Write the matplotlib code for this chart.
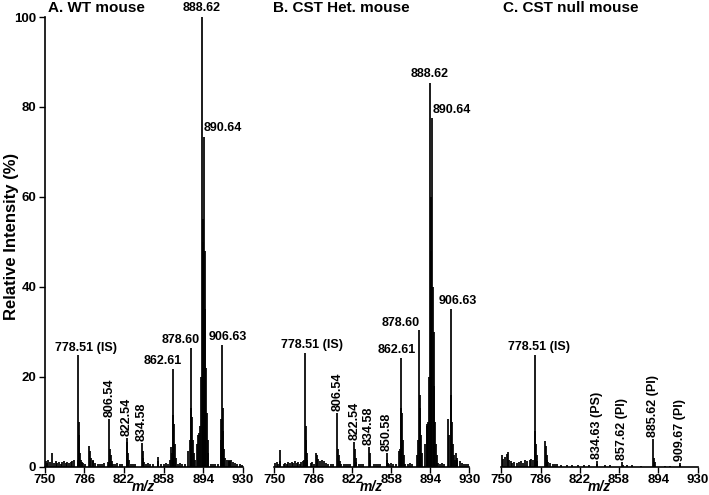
import matplotlib
matplotlib.use('Agg')
import matplotlib.pyplot as plt

plt.rcParams['font.family'] = ['Liberation Sans', 'DejaVu Sans']
plt.rcParams['font.weight'] = 'bold'

# ---------------- data ----------------
xticks = [750, 786, 822, 858, 894, 930]
yticks = [0, 20, 40, 60, 80, 100]
titles = ["A. WT mouse", "B. CST Het. mouse", "C. CST null mouse"]

# shared baseline-noise positions for panels A and B
noise_mz = [751.0, 752.2, 753.5, 755.0, 758.5, 760.0, 761.5, 763.0, 764.5, 766.0,
            767.5, 769.0, 770.5, 772.0, 773.5, 775.0, 776.5,
            783.5, 785.0, 786.5,
            794.0, 796.0, 798.0, 800.0,
            802.0, 804.0,
            812.0, 814.0, 816.0, 818.0, 820.0,
            828.0, 830.0, 832.0,
            842.0, 844.0, 846.0, 848.0,
            856.0, 858.0, 860.0, 862.0,
            871.0, 873.0, 875.0, 877.0,
            901.0, 903.0, 905.0, 907.0,
            917.0, 919.0, 921.0, 923.0, 925.0, 927.0, 929.0]
noise_A = [1.2, 0.8, 1.5, 1.0, 0.8, 1.2, 0.9, 1.1, 0.7, 1.0,
           1.2, 0.8, 1.0, 0.9, 1.1, 1.3, 1.5,
           1.0, 0.8, 0.6,
           1.5, 0.8, 0.6, 0.5,
           0.6, 0.8,
           0.7, 0.5, 0.8, 0.6, 0.5,
           0.6, 0.5, 0.7,
           0.6, 0.8, 0.5, 0.6,
           0.7, 0.6, 0.8, 0.5,
           0.6, 0.8, 0.7, 0.5,
           0.6, 0.5, 0.7, 0.6,
           1.2, 1.5, 1.0, 0.8, 0.6, 0.5, 0.4]
noise_B = [0.8, 1.0, 0.6, 1.2, 0.7, 0.9, 0.6, 1.0, 0.8, 1.1,
           0.9, 1.2, 0.8, 1.0, 0.7, 1.0, 1.2,
           0.8, 1.0, 0.7,
           1.5, 1.2, 0.8, 0.6,
           0.7, 0.6,
           0.6, 0.7, 0.5, 0.6, 0.5,
           0.5, 0.7, 0.6,
           0.6, 0.5, 0.7, 0.5,
           0.6, 0.8, 0.5, 0.7,
           0.7, 0.6, 0.8, 0.6,
           0.8, 0.7, 0.9, 0.6,
           1.4, 2.0, 1.2, 0.9, 0.7, 0.6, 0.5]

peaks_A_mz = [756.5, 780.0, 780.6, 781.1, 781.6, 782.2, 782.8,
              790.6, 791.3, 792.2, 793.5,
              807.5, 808.8, 809.4, 810.0, 810.8,
              824.6, 825.2, 825.8, 826.5,
              838.3, 838.9, 839.5, 840.2,
              852.5, 853.2,
              863.5, 864.5, 865.3, 866.1, 866.7, 867.3, 868.0, 868.8,
              880.5, 881.5, 882.5, 883.1, 883.7, 884.4, 885.2, 886.0,
              888.5, 889.3, 890.2, 891.0, 891.7, 893.0, 893.5, 894.0, 894.5,
              895.1, 895.7, 896.3, 897.0, 897.8, 898.6,
              909.8, 910.4, 911.0, 911.6, 912.2, 912.9, 913.6, 915.5, 917.5, 918.5]
peaks_A_int = [3.1, 1.5, 24.8, 10.0, 7.0, 3.0, 1.5,
               4.6, 3.5, 2.0, 1.2,
               1.0, 10.7, 4.0, 2.5, 1.2,
               6.3, 5.5, 3.0, 1.5,
               5.3, 3.5, 2.0, 1.0,
               2.2, 1.2,
               1.5, 4.4, 3.0, 21.7, 11.5, 9.5, 5.0, 2.0,
               3.5, 6.0, 26.3, 13.0, 11.0, 6.0, 3.0, 1.5,
               5.0, 7.0, 7.5, 9.0, 20.0, 100.0, 55.0, 50.0, 73.3,
               48.0, 35.0, 22.0, 12.0, 6.0, 3.0,
               10.7, 6.0, 27.0, 13.0, 8.0, 4.0, 2.0, 1.5, 1.5, 1.2]

peaks_B_mz = [755.3, 777.5, 778.3, 778.8, 779.3, 779.9, 780.6,
              788.6, 789.3, 790.2, 792.0,
              808.2, 808.8, 809.4, 810.2,
              823.9, 824.5, 825.1, 825.8,
              837.4, 838.0, 838.6,
              853.8, 854.4, 855.0,
              865.0, 866.0, 866.7, 867.3, 867.9, 868.6, 869.4,
              881.5, 882.5, 883.6, 884.2, 884.8, 885.5, 886.3,
              889.5, 890.5, 891.3, 892.2, 893.0, 893.8, 894.3, 894.9, 895.9,
              896.5, 897.1, 897.8, 898.5, 899.3, 900.0,
              910.7, 911.5, 912.9, 913.5, 914.1, 914.8, 915.5, 917.5, 919.0]
peaks_B_int = [3.7, 1.5, 25.2, 9.0, 6.0, 3.0, 1.5,
               3.1, 2.5, 1.8, 1.2,
               11.9, 4.0, 2.5, 1.2,
               5.6, 4.0, 2.0, 1.0,
               4.4, 3.0, 1.5,
               3.0, 1.5, 0.8,
               3.5, 4.0, 24.1, 13.0, 12.0, 6.0, 2.5,
               2.5, 6.0, 30.5, 16.0, 13.0, 7.0, 3.0,
               5.0, 9.0, 9.5, 10.0, 20.0, 85.3, 48.0, 60.0, 77.6,
               40.0, 30.0, 18.0, 10.0, 5.0, 2.5,
               10.7, 7.0, 35.0, 16.0, 10.0, 5.0, 2.5, 3.0, 1.5]

peaks_C_mz = [751.0, 752.0, 753.5, 755.0, 756.0, 757.0, 758.5, 760.0, 762.0, 764.0,
              766.0, 768.0, 770.0, 772.0, 774.0, 776.0, 777.5, 779.0,
              780.6, 781.1, 781.7, 782.3, 783.0,
              790.2, 790.8, 791.5, 792.2, 793.0, 795.0, 797.0, 799.0, 801.0,
              805.0, 810.0, 815.0, 820.0, 826.0, 830.0,
              837.4, 838.0, 845.0, 850.0,
              860.6, 861.2, 865.0, 870.0, 878.0,
              889.6, 890.2, 890.8, 900.0, 905.0,
              913.8, 914.4]
peaks_C_int = [2.5, 1.8, 2.2, 2.8, 3.2, 1.5, 1.2, 0.8, 1.0, 0.8,
               1.0, 1.2, 0.9, 1.4, 1.2, 1.5, 1.8, 1.5,
               24.8, 8.0, 5.0, 2.5, 1.2,
               5.8, 4.5, 2.5, 1.5, 1.0, 0.8, 0.7, 0.6, 0.5,
               0.4, 0.4, 0.3, 0.3, 0.3, 0.3,
               1.3, 0.6, 0.3, 0.3,
               1.0, 0.4, 0.3, 0.3, 0.2,
               6.2, 2.0, 1.0, 0.2, 0.2,
               0.8, 0.3]

# peak annotations: text, m/z position, intensity (peak top)
labels_A = ["778.51 (IS)", "806.54", "822.54", "834.58", "862.61", "878.60",
            "888.62", "890.64", "906.63"]
labels_A_mz = [780.6, 808.8, 824.6, 838.3, 866.1, 882.5, 893.0, 894.5, 911.0]
labels_A_int = [24.8, 10.7, 6.3, 5.3, 21.7, 26.3, 100.0, 73.3, 27.0]

labels_B = ["778.51 (IS)", "806.54", "822.54", "834.58", "850.58", "862.61",
            "878.60", "888.62", "890.64", "906.63"]
labels_B_mz = [778.3, 808.2, 823.9, 837.4, 853.8, 866.7, 883.6, 893.8, 895.9, 912.9]
labels_B_int = [25.2, 11.9, 5.6, 4.4, 3.0, 24.1, 30.5, 85.3, 77.6, 35.0]

labels_C = ["778.51 (IS)", "834.63 (PS)", "857.62 (PI)", "885.62 (PI)", "909.67 (PI)"]
labels_C_mz = [780.6, 837.4, 860.6, 889.6, 913.8]
labels_C_int = [24.8, 1.3, 1.0, 6.2, 0.8]

# label styling (rotation, alignment, pixel offsets)
style_A = [(0, 'center', 8, 1), (90, 'center', 0, 2), (90, 'center', 0, 2), (90, 'center', 0, 2),
           (0, 'center', -10, 2), (0, 'center', -10, 2), (0, 'center', -1, 3),
           (0, 'left', 0, 3), (0, 'center', 6, 2)]
style_B = [(0, 'center', 7, 2), (90, 'center', 0, 2), (90, 'center', 0, 2), (90, 'center', 0, 2),
           (90, 'center', 0, 2), (0, 'center', -4, 2), (0, 'right', 1, 1), (0, 'center', 0, 3),
           (0, 'left', 0, 2), (0, 'center', 7, 2)]
style_C = [(0, 'center', 4, 2), (90, 'center', 0, 2), (90, 'center', 0, 2), (90, 'center', 0, 2),
           (90, 'center', 0, 2)]

# ---------------- figure ----------------
W, H = 709, 495
fig = plt.figure(figsize=(W / 100, H / 100), dpi=100)

bottom = 1 - 466.7 / H
height = (466.7 - 17) / H
ax_rects = [[44.6 / W, bottom, (243.0 - 44.6) / W, height],
            [274.3 / W, bottom, (469.3 - 274.3) / W, height],
            [501.3 / W, bottom, (697.5 - 501.3) / W, height]]

panels = [
    (peaks_A_mz + noise_mz, peaks_A_int + noise_A, labels_A, labels_A_mz, labels_A_int, style_A),
    (peaks_B_mz + noise_mz, peaks_B_int + noise_B, labels_B, labels_B_mz, labels_B_int, style_B),
    (peaks_C_mz, peaks_C_int, labels_C, labels_C_mz, labels_C_int, style_C),
]
title_x = [48, 273, 503]

for i, (rect, (mz, inten, labs, lmz, lint, sty)) in enumerate(zip(ax_rects, panels)):
    ax = fig.add_axes(rect)
    ax.vlines(mz, 0, inten, color='black', lw=1.25)
    ax.set_xlim(750, 930)
    ax.set_ylim(0, 100)
    ax.set_xticks(xticks)
    ax.set_xticklabels([str(t) for t in xticks], fontsize=9.5, fontweight='bold')
    ax.tick_params(axis='x', direction='out', length=4, width=1, pad=1.5)
    for s in ['top', 'right']:
        ax.spines[s].set_visible(False)
    ax.spines['bottom'].set_linewidth(1.2)
    if i == 0:
        ax.set_yticks(yticks)
        ax.set_yticklabels([str(t) for t in yticks], fontsize=9.5, fontweight='bold')
        ax.tick_params(axis='y', direction='out', length=4, width=1, pad=2)
        ax.spines['left'].set_linewidth(1.2)
    else:
        ax.spines['left'].set_visible(False)
        ax.set_yticks([])
    ax.patch.set_visible(False)
    for t, x, y, (rot, ha, dx, dy) in zip(labs, lmz, lint, sty):
        ax.annotate(t, (x, y), xytext=(dx, dy), textcoords='offset pixels',
                    rotation=rot, ha=ha, va='bottom', fontsize=9, fontweight='bold',
                    annotation_clip=False)
    cx = (rect[0] + rect[2] / 2)
    fig.text(cx, 1 - 487 / H, 'm/z', ha='center', va='center', fontsize=10,
             fontweight='bold', style='italic')
    fig.text(title_x[i] / W, 1 - 8 / H, titles[i], ha='left', va='center',
             fontsize=11, fontweight='bold')

fig.text(12 / W, 1 - 236 / H, 'Relative Intensity (%)', rotation=90, ha='center',
         va='center', fontsize=12, fontweight='bold')

fig.savefig('out.png', dpi=100)
